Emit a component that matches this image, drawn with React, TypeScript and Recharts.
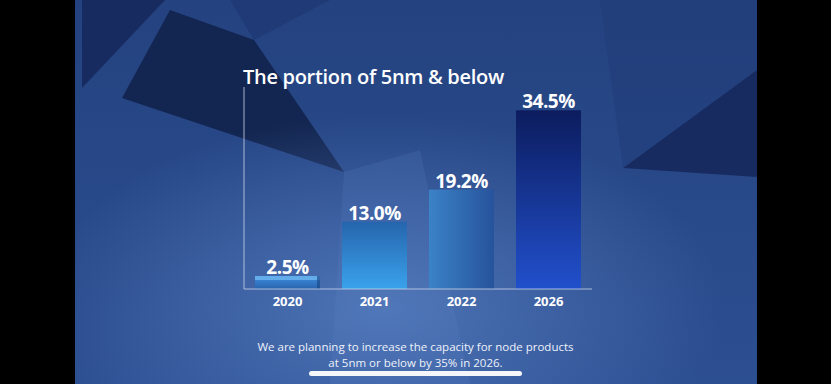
import { Bar, BarChart, XAxis, YAxis, LabelList, Cell } from 'recharts'

const years = ['2020', '2021', '2022', '2026']
const portion = [2.5, 13.0, 19.2, 34.5]
const labels = ['2.5%', '13.0%', '19.2%', '34.5%']
const footnote = ['We are planning to increase the capacity for node products', 'at 5nm or below by 35% in 2026.']

const data = years.map((year, i) => ({ year, portion: portion[i], label: labels[i] }))

const FONT = '"Open Sans", "Noto Sans", sans-serif'

const gradients = [
    { id: 'g0', stops: [['0%', '#3d8ee0'], ['100%', '#2a63ad']], vertical: true },
    { id: 'g1', stops: [['0%', '#2565ad'], ['100%', '#3aa2ec']], vertical: true },
    { id: 'g2', stops: [['0%', '#3b82c6'], ['100%', '#26539c']], vertical: false },
    { id: 'g3', stops: [['0%', '#0c1c5e'], ['100%', '#2150cc']], vertical: true },
]

function BoxShape(props: any) {
    const { x, y, width, height, index } = props
    return (
        <g>
            <rect x={x} y={y} width={width} height={height} fill={`url(#g${index})`} />
            {index === 0 && (
                <>
                    <rect x={x} y={y} width={width} height={4} fill="#6fb6f0" opacity={0.8} />
                    <rect x={x + width - 3} y={y} width={3} height={height} fill="#1d4a8a" opacity={0.7} />
                </>
            )}
        </g>
    )
}

function Background() {
    return (
        <svg width={831} height={384} style={{ position: 'absolute', left: 0, top: 0 }}>
            <defs>
                <radialGradient id="glow" cx="0.45" cy="0.8" r="0.5">
                    <stop offset="0%" stopColor="#5a82c4" stopOpacity={0.75} />
                    <stop offset="100%" stopColor="#5a82c4" stopOpacity={0} />
                </radialGradient>
                <linearGradient id="base" x1="0" y1="0" x2="0" y2="1">
                    <stop offset="0%" stopColor="#24427f" />
                    <stop offset="100%" stopColor="#2c4f92" />
                </linearGradient>
            </defs>
            <rect x={0} y={0} width={831} height={384} fill="#000" />
            <rect x={75} y={0} width={682} height={384} fill="url(#base)" />
            <polygon points="82,0 165,0 82,88" fill="#15275a" opacity={0.85} />
            <polygon points="170,10 254,40 344,172 122,98" fill="#12224b" opacity={0.9} />
            <polygon points="230,0 330,0 254,40" fill="#1c3570" opacity={0.6} />
            <polygon points="623,168 757,70 757,177" fill="#15275a" opacity={0.85} />
            <polygon points="600,0 757,0 757,70 623,168" fill="#1f3b78" opacity={0.5} />
            <polygon points="344,172 420,150 470,384 330,384" fill="#5d86c6" opacity={0.18} />
            <rect x={75} y={0} width={682} height={384} fill="url(#glow)" />
        </svg>
    )
}

export default function App() {
    return (
        <div style={{ position: 'absolute', left: 0, top: 0, width: 831, height: 384, overflow: 'hidden' }}>
            <Background />
            <div
                style={{
                    position: 'absolute',
                    left: 243,
                    top: 63,
                    color: '#fff',
                    fontFamily: FONT,
                    fontSize: 20,
                    fontWeight: 600,
                    letterSpacing: -0.3,
                    whiteSpace: 'nowrap',
                }}
            >
                The portion of 5nm &amp; below
            </div>
            <div style={{ position: 'absolute', left: 0, top: 0 }}>
                <BarChart
                    width={831}
                    height={384}
                    data={data}
                    margin={{ top: 87, right: 239, bottom: 65, left: 243 }}
                    barSize={65}
                >
                    <defs>
                        {gradients.map((g) => (
                            <linearGradient key={g.id} id={g.id} x1="0" y1="0" x2={g.vertical ? '0' : '1'} y2={g.vertical ? '1' : '0'}>
                                {g.stops.map(([o, c]) => (
                                    <stop key={o} offset={o} stopColor={c} />
                                ))}
                            </linearGradient>
                        ))}
                    </defs>
                    <YAxis
                        width={1}
                        domain={[0, 39]}
                        tick={false}
                        tickLine={false}
                        axisLine={{ stroke: '#c9d4ea', strokeOpacity: 0.8 }}
                    />
                    <XAxis
                        dataKey="year"
                        height={30}
                        tickLine={false}
                        axisLine={{ stroke: '#c9d4ea', strokeOpacity: 0.8 }}
                        tick={{ fill: '#ffffff', fontSize: 13, fontWeight: 700, fontFamily: FONT }}
                    />
                    <Bar dataKey="portion" shape={<BoxShape />} isAnimationActive={false}>
                        {data.map((entry, index) => (
                            <Cell key={`cell-${index}`} fill={`url(#g${index})`} />
                        ))}
                        <LabelList
                            dataKey="label"
                            position="top"
                            offset={2}
                            fill="#ffffff"
                            fontSize={19}
                            fontWeight={700}
                            fontFamily={FONT}
                            letterSpacing={-0.5}
                        />
                    </Bar>
                </BarChart>
            </div>
            {footnote.map((line, i) => (
                <div
                    key={i}
                    style={{
                        position: 'absolute',
                        left: 0,
                        width: 831,
                        top: 339 + i * 16,
                        height: 16,
                        textAlign: 'center',
                        color: '#eef2fa',
                        fontFamily: FONT,
                        fontSize: 11.5,
                        lineHeight: '16px',
                        whiteSpace: 'nowrap',
                    }}
                >
                    {line}
                </div>
            ))}
            <div
                style={{
                    position: 'absolute',
                    left: 309,
                    top: 371,
                    width: 213,
                    height: 5,
                    borderRadius: 3,
                    background: '#f4f6fa',
                }}
            />
        </div>
    )
}
